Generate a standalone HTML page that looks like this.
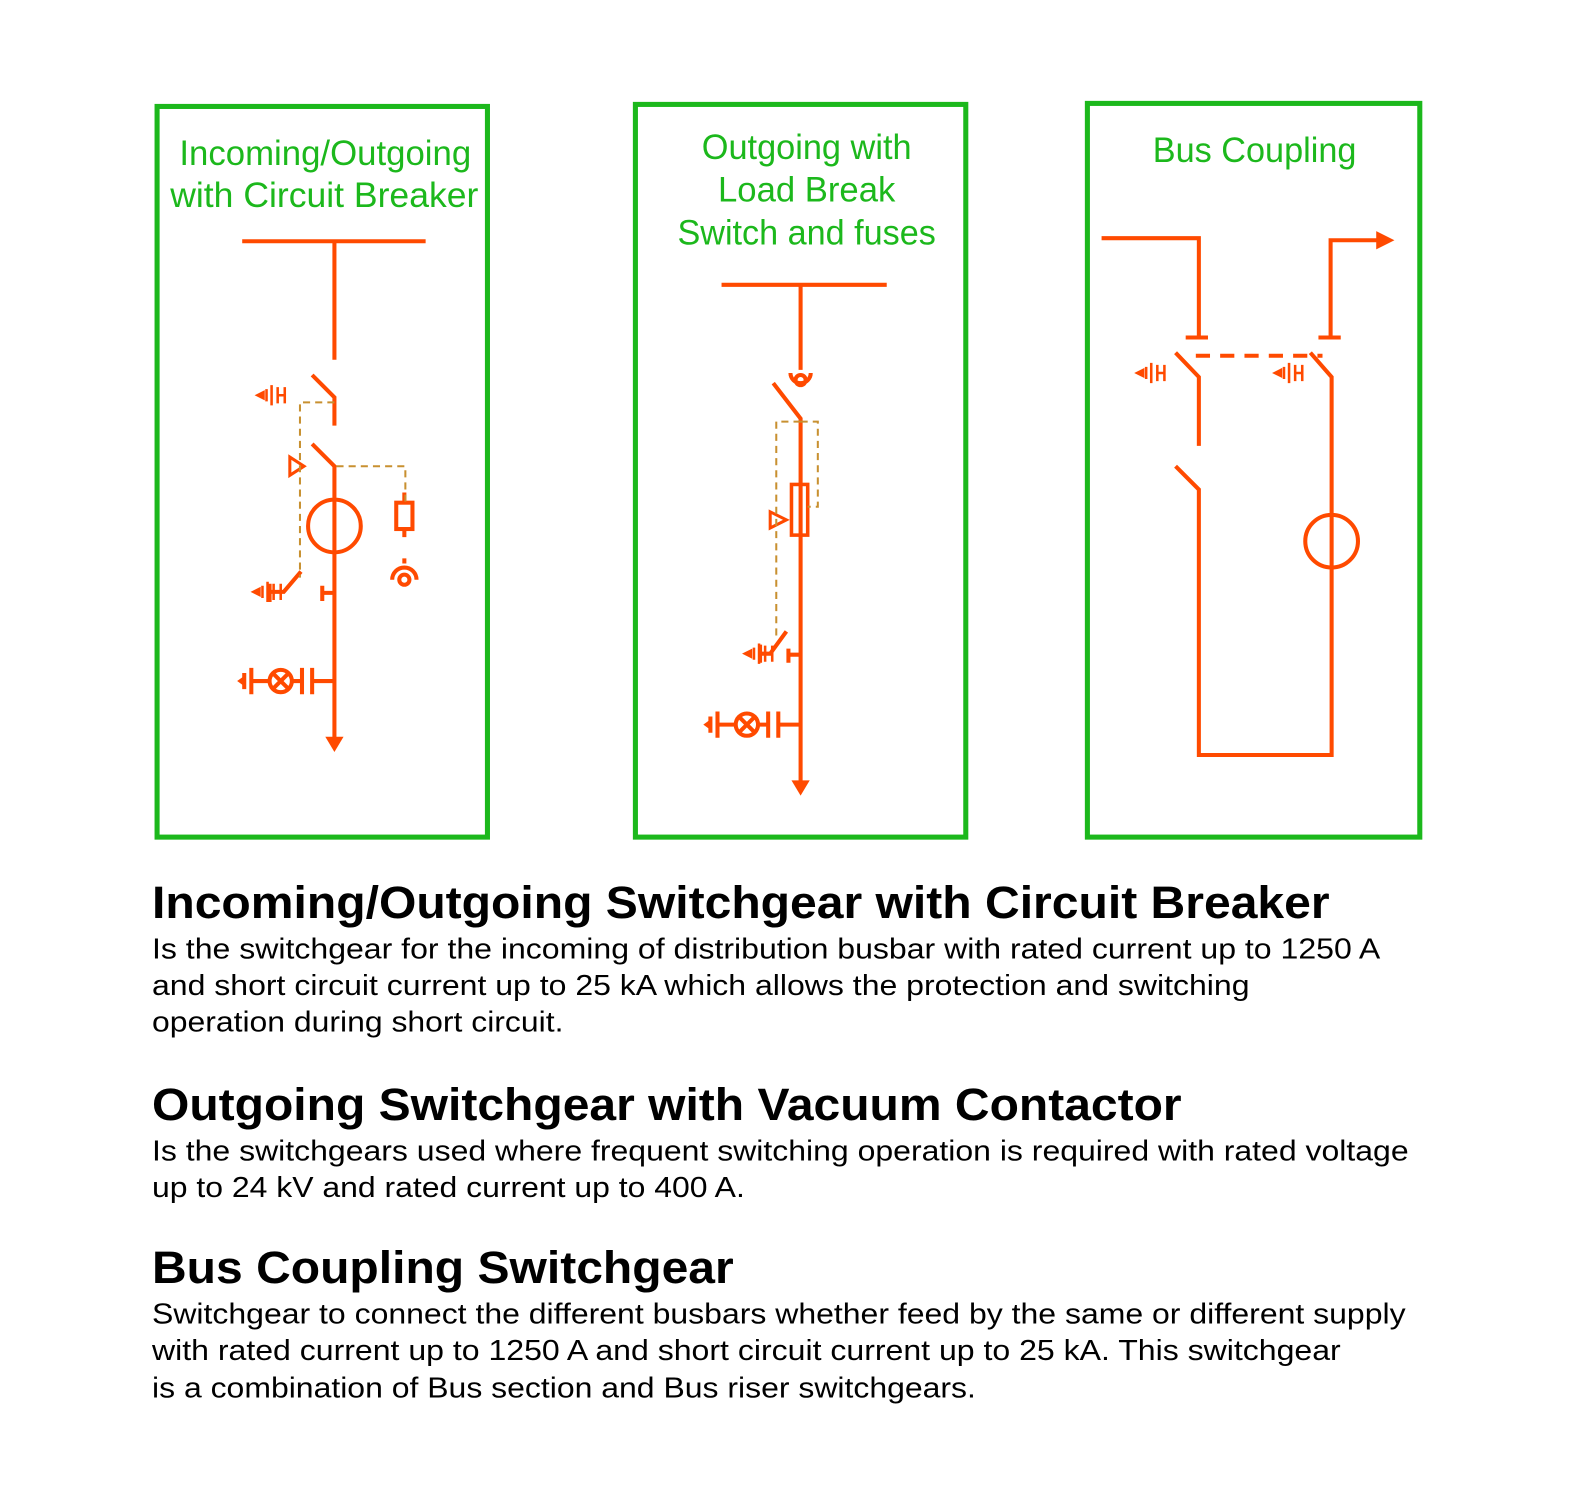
<!DOCTYPE html>
<html><head><meta charset="utf-8"><style>
html,body{margin:0;padding:0;background:#fff;width:1587px;height:1506px;overflow:hidden}
svg{display:block}
.g{fill:#1cb81c;font-family:"Liberation Sans",sans-serif;font-size:35px}
.h{fill:#000;font-family:"Liberation Sans",sans-serif;font-size:45px;font-weight:bold}
.b{fill:#000;font-family:"Liberation Sans",sans-serif;font-size:28px}
</style></head><body>
<svg width="1587" height="1506" viewBox="0 0 1566 1486" xmlns="http://www.w3.org/2000/svg">
<defs>
<g id="earth" stroke="#ff4a00" stroke-width="2.5" fill="none">
 <path d="M0 0 l6 -3 v6 z" fill="#ff4a00"/>
 <path d="M9 -6 v12 M14 -10 v20 M20 -8 v16 M20 0 h7 M27 -8 v16"/>
</g>
<g id="vind" stroke="#ff4a00" stroke-width="4" fill="none">
 <path d="M0 0 l7 -5 v10 z" fill="#ff4a00" stroke="none"/>
 <path d="M7 -8 v16 M14 -13 v26 M14 0 h18"/>
 <circle cx="43" cy="0" r="11"/>
 <path d="M35 -8 l16 16 M51 -8 l-16 16"/>
 <path d="M54 0 h10 M64 -13 v26 M74 -13 v26 M74 0 h22"/>
</g>
</defs>
<g fill="none" stroke="#1cb81c" stroke-width="5">
<rect x="155" y="105" width="326" height="721"/>
<rect x="627" y="103" width="326" height="723"/>
<rect x="1073" y="102" width="328" height="724"/>
</g>
<text class="g" x="321" y="163" text-anchor="middle" textLength="288" lengthAdjust="spacingAndGlyphs">Incoming/Outgoing</text>
<text class="g" x="320" y="204" text-anchor="middle" textLength="304" lengthAdjust="spacingAndGlyphs">with Circuit Breaker</text>
<text class="g" x="796" y="157" text-anchor="middle" textLength="207" lengthAdjust="spacingAndGlyphs">Outgoing with</text>
<text class="g" x="796" y="199" text-anchor="middle" textLength="175" lengthAdjust="spacingAndGlyphs">Load Break</text>
<text class="g" x="796" y="241" text-anchor="middle" textLength="255" lengthAdjust="spacingAndGlyphs">Switch and fuses</text>
<text class="g" x="1238" y="160" text-anchor="middle" textLength="201" lengthAdjust="spacingAndGlyphs">Bus Coupling</text>

<!-- Panel 1 -->
<g stroke="#ff4a00" stroke-width="4" fill="none">
<path d="M239 238 H420 M330 238 V355"/>
<path d="M308 370 L330 392 V420"/>
<path d="M308 438 L330 460 V730"/>
<circle cx="330" cy="519" r="26"/>
<path d="M318 578 V593 M318 585 H330"/>
<path d="M297 564 L280 584 H266 M266 576 V594"/>
<rect x="391" y="496" width="16" height="26"/>
<path d="M399 486 V496 M399 522 V530 M399 551 V556"/>
<path d="M387 572 A12 12 0 0 1 411 572"/>
<circle cx="399" cy="572" r="5"/>
<path d="M286 451 L300 460 L286 469 Z" stroke-width="3"/>
</g>
<path d="M330 727 l-9 0 l9 15 l9 -15 z" fill="#ff4a00"/>
<g stroke="#c89030" stroke-width="2" fill="none" stroke-dasharray="7 5">
<path d="M330 397 H296 V570"/>
<path d="M332 460 H400 V496"/>
</g>
<use href="#earth" x="254" y="390"/>
<use href="#earth" x="250" y="584"/>
<use href="#vind" x="234" y="672"/>

<!-- Panel 2 -->
<g stroke="#ff4a00" stroke-width="4" fill="none">
<path d="M712 281 H875 M790 281 V365"/>
<path d="M780 368 A10 10 0 0 0 800 368"/>
<circle cx="790" cy="375" r="5"/>
<path d="M763 378 L790 413 V772"/>
<rect x="781" y="478" width="16" height="50" stroke-width="3.5"/>
<path d="M760 505 L776 513 L760 521 Z" stroke-width="3"/>
<path d="M778 640 V654 M778 646 H790"/>
<path d="M776 623 L760 645 H750 M750 636 V654"/>
</g>
<path d="M790 770 l-9 0 l9 15 l9 -15 z" fill="#ff4a00"/>
<g stroke="#c89030" stroke-width="2" fill="none" stroke-dasharray="7 5">
<path d="M790 416 H807 V500 H797"/>
<path d="M790 416 H766 V630"/>
</g>
<use href="#earth" x="735" y="645"/>
<use href="#vind" x="694" y="715"/>

<!-- Panel 3 -->
<g stroke="#ff4a00" stroke-width="4" fill="none">
<path d="M1087 235 H1183 V333 M1170 333 H1192"/>
<path d="M1313 333 V237 H1360 M1301 333 H1323"/>
<path d="M1160 348 L1183 372 V440"/>
<path d="M1160 460 L1183 483 V745 H1314 V372 L1293 348"/>
<circle cx="1314" cy="534" r="26"/>
<path d="M1180 351 H1305" stroke-dasharray="14 10"/>
</g>
<path d="M1358 228 L1376 237 L1358 246 Z" fill="#ff4a00"/>
<use href="#earth" x="1122" y="368"/>
<use href="#earth" x="1258" y="368"/>

<!-- Text -->
<text class="h" x="150" y="906" textLength="1162" lengthAdjust="spacingAndGlyphs">Incoming/Outgoing Switchgear with Circuit Breaker</text>
<text class="b" x="150" y="946" textLength="1212" lengthAdjust="spacingAndGlyphs">Is the switchgear for the incoming of distribution busbar with rated current up to 1250 A</text>
<text class="b" x="150" y="982" textLength="1083" lengthAdjust="spacingAndGlyphs">and short circuit current up to 25 kA which allows the protection and switching</text>
<text class="b" x="150" y="1018" textLength="406" lengthAdjust="spacingAndGlyphs">operation during short circuit.</text>

<text class="h" x="150" y="1105" textLength="1016" lengthAdjust="spacingAndGlyphs">Outgoing Switchgear with Vacuum Contactor</text>
<text class="b" x="150" y="1145" textLength="1240" lengthAdjust="spacingAndGlyphs">Is the switchgears used where frequent switching operation is required with rated voltage</text>
<text class="b" x="150" y="1181" textLength="585" lengthAdjust="spacingAndGlyphs">up to 24 kV and rated current up to 400 A.</text>

<text class="h" x="150" y="1266" textLength="574" lengthAdjust="spacingAndGlyphs">Bus Coupling Switchgear</text>
<text class="b" x="150" y="1306" textLength="1237" lengthAdjust="spacingAndGlyphs">Switchgear to connect the different busbars whether feed by the same or different supply</text>
<text class="b" x="150" y="1342" textLength="1173" lengthAdjust="spacingAndGlyphs">with rated current up to 1250 A and short circuit current up to 25 kA. This switchgear</text>
<text class="b" x="150" y="1379" textLength="813" lengthAdjust="spacingAndGlyphs">is a combination of Bus section and Bus riser switchgears.</text>
</svg>
</body></html>
